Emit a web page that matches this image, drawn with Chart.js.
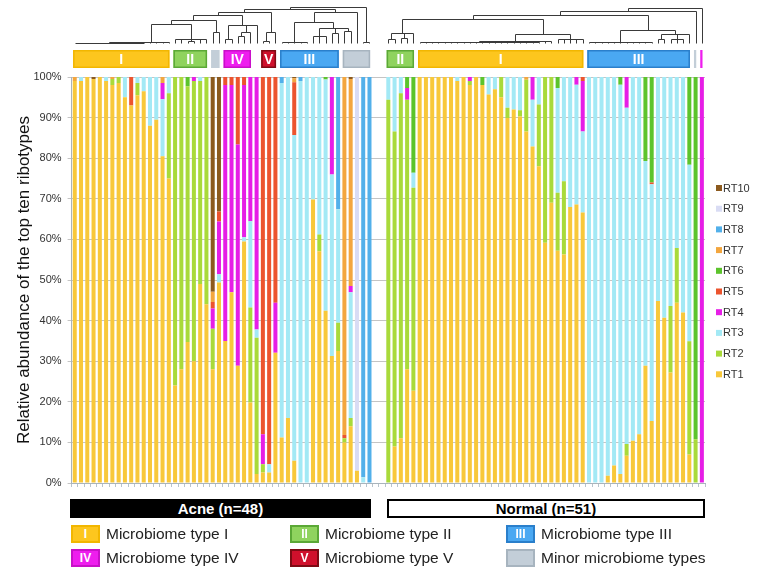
<!DOCTYPE html>
<html>
<head>
<meta charset="utf-8">
<script src="https://cdn.jsdelivr.net/npm/chart.js@4.4.1/dist/chart.umd.min.js"></script>
<style>
  body { margin: 0; background: #fff; font-family: "Liberation Sans", Arial, sans-serif; }
  #wrap { position: relative; width: 762px; height: 578px; }
  #chart { position: absolute; left: 0; top: 0; }
  .grp { position: absolute; top: 499px; height: 19px; line-height: 19px; text-align: center;
         font-weight: bold; font-size: 15px; box-sizing: border-box; }
  .tbox { position: absolute; width: 29px; height: 18px; box-sizing: border-box; border: 2px solid;
          color: #fff; font: bold 12px "Liberation Sans", Arial, sans-serif; text-align: center; line-height: 14px; }
  .tlab { position: absolute; font-size: 15.5px; color: #222; line-height: 18px; white-space: nowrap; }
</style>
</head>
<body>
<div id="wrap">
  <canvas id="chart" width="762" height="578"></canvas>
  <div class="grp" style="left:70px;width:301px;background:#000;color:#fff;">Acne (n=48)</div>
  <div class="grp" style="left:387px;width:318px;background:#fff;color:#000;border:2px solid #000;line-height:15px;">Normal (n=51)</div>
  <div id="typeLegend"></div>
</div>
<script>
// ribotype shares per sample: 48 acne samples, then 51 normal samples
var ribotypes = ["RT1", "RT2", "RT3", "RT4", "RT5", "RT6", "RT7", "RT8", "RT9", "RT10"];
var colors = ["#F8C83A", "#A9DA3A", "#A3E9F5", "#E61EE6", "#EC542E", "#5CC42C", "#F3A63E", "#52B0EA", "#D9DCF4", "#8C5A1E"];
var nAcne = 48, nNormal = 51;

var rt1 = [99,99,100,99.5,100,99,98,98.5,95,93,
  95.5,96.5,88,89.5,80.5,75,24,28,34.7,30,
  49,44,28,49.4,35,47,28.9,59.5,19.8,2.2,
  2.6,2.6,32.1,11.2,16,5.5,0,0,69.8,57.1,
  42.4,31.3,32.5,10,14,3,0,0,
  0,9,11,28,22.7,100,100,100,100,100,
  100,99,100,98,100,98,95.7,97,95,89.9,
  92,90.3,86.6,82.9,78,59.2,69,57.2,56.3,68,
  68.6,66.6,0,0,0,1.8,4.3,2.2,6.7,10.4,
  12,28.9,15.3,44.8,40.7,27.2,44.4,42,7,0,
  0];
var rt2 = [0,0,0,0,0,0,1.5,1.5,0,0,
  3,0,0,0,0,21,76,72,63,69,
  50,56,10,0,0,0,0,0,23.4,33.6,
  2,0,0,0,0,0,0,0,0,4.1,
  0,0,7,1,2,0,0,0,
  94.4,77.6,85,66.4,50,0,0,0,0,0,
  0,0,0,1,0,0,0,0,5,2.5,
  0,1.5,12.7,0,15.2,40.8,31,14.3,18,0,
  0,0,0,0,0,0,0,0,2.9,0,
  0,0,0,0,0,16.4,13.5,0,27.9,10.8,
  0];
var rt3 = [0,1,0,0,0,1,0,0,5,0,
  1.5,3.5,12,10.5,14,4,0,0,0,0,
  1,0,0,2,0,0,0,1,21.3,2,
  0,2,0,87.3,84,80.2,99,100,30.2,38.8,
  57,44.7,27.9,0,31,0,1.4,0,
  5.6,13.4,4,0,3.7,0,0,0,0,0,
  0,1,0,0,0,0,4.3,3,0,7.6,
  8,8.2,0,11.5,6.8,0,0,25.8,25.7,32,
  29.5,20,100,100,100,98.2,95.7,95.9,82.8,89.6,
  88,50.4,58.3,55.2,59.3,56.4,42.1,58,43.5,0,
  0];
var rt4 = [0,0,0,0,0,0,0,0,0,0,
  0,0,0,0,4,0,0,0,0,1,
  0,0,5,13,63,51,54.5,37.5,35.5,62.2,
  7.4,0,12.3,0,0,0,0,0,0,0,
  0,24,0,0,1.5,0,0,0,
  0,0,0,2.9,0,0,0,0,0,0,
  0,0,0,1,0,0,0,0,0,0,
  0,0,0,5.6,0,0,0,0,0,0,
  1.9,12.4,0,0,0,0,0,0,7.6,0,
  0,0,0,0,0,0,0,0,0,0,
  100];
var rt5 = [0,0,0,0,0,0,0,0,0,7,
  0,0,0,0,0,0,0,0,0,0,
  0,0,1.6,2.5,2,2,16.6,2,0,0,
  88,95.4,55.6,0,0,13,0,0,0,0,
  0,0,0,0.8,0,0,0,0,
  0,0,0,0,0,0,0,0,0,0,
  0,0,0,0,0,0,0,0,0,0,
  0,0,0,0,0,0,0,0,0,0,
  0,1,0,0,0,0,0,0,0,0,
  0,0,0.4,0,0,0,0,0,0,0,
  0];
var rt6 = [0,0,0,0,0,0,0,0,0,0,
  0,0,0,0,0,0,0,0,2.3,0,
  0,0,0,0,0,0,0,0,0,0,
  0,0,0,0,0,0,0,0,0,0,
  0.6,0,0,0,0,0,0,0,
  0,0,0,2.7,23.6,0,0,0,0,0,
  0,0,0,0,0,2,0,0,0,0,
  0,0,0,0,0,0,0,2.7,0,0,
  0,0,0,0,0,0,0,1.9,0,0,
  0,20.7,26,0,0,0,0,0,21.6,89.2,
  0];
var rt7 = [1,0,0,0,0,0,0.5,0,0,0,
  0,0,0,0,1.5,0,0,0,0,0,
  0,0,2.5,0,0,0,0,0,0,0,
  0,0,0,0,0,1,0,0,0,0,
  0,0,0,88.2,51,0,0,0,
  0,0,0,0,0,0,0,0,0,0,
  0,0,0,0,0,0,0,0,0,0,
  0,0,0.7,0,0,0,0,0,0,0,
  0,0,0,0,0,0,0,0,0,0,
  0,0,0,0,0,0,0,0,0,0,
  0];
var rt8 = [0,0,0,0,0,0,0,0,0,0,
  0,0,0,0,0,0,0,0,0,0,
  0,0,0,0,0,0,0,0,0,0,
  0,0,0,1.5,0,0,1,0,0,0,
  0,0,32.6,0,0,0,98.6,100,
  0,0,0,0,0,0,0,0,0,0,
  0,0,0,0,0,0,0,0,0,0,
  0,0,0,0,0,0,0,0,0,0,
  0,0,0,0,0,0,0,0,0,0,
  0,0,0,0,0,0,0,0,0,0,
  0];
var rt9 = [0,0,0,0,0,0,0,0,0,0,
  0,0,0,0,0,0,0,0,0,0,
  0,0,0,0,0,0,0,0,0,0,
  0,0,0,0,0,0,0,0,0,0,
  0,0,0,0,0,97,0,0,
  0,0,0,0,0,0,0,0,0,0,
  0,0,0,0,0,0,0,0,0,0,
  0,0,0,0,0,0,0,0,0,0,
  0,0,0,0,0,0,0,0,0,0,
  0,0,0,0,0,0,0,0,0,0,
  0];
var rt10 = [0,0,0,0.5,0,0,0,0,0,0,
  0,0,0,0,0,0,0,0,0,0,
  0,0,52.9,33.1,0,0,0,0,0,0,
  0,0,0,0,0,0.3,0,0,0,0,
  0,0,0,0,0.5,0,0,0,
  0,0,0,0,0,0,0,0,0,0,
  0,0,0,0,0,0,0,0,0,0,
  0,0,0,0,0,0,0,0,0,0,
  0,0,0,0,0,0,0,0,0,0,
  0,0,0,0,0,0,0,0,0,0,
  0];
var series = [rt1, rt2, rt3, rt4, rt5, rt6, rt7, rt8, rt9, rt10];

// microbiome type clusters: [type, first sample, last sample] within each group
var acneTypes = [["I", 0, 15], ["II", 16, 21], ["minor", 22, 23], ["IV", 24, 28], ["V", 30, 32], ["III", 33, 42], ["minor", 43, 47]];
var normalTypes = [["II", 0, 4], ["I", 5, 31], ["III", 32, 48], ["minor", 49, 49], ["IV", 50, 50]];
var typeNames = {I: "Microbiome type I", II: "Microbiome type II", III: "Microbiome type III",
  IV: "Microbiome type IV", V: "Microbiome type V", minor: "Minor microbiome types"};
var typeFill = {I: "#FDC61E", II: "#8FD35E", III: "#4AA8F2", IV: "#EE1EEE", V: "#D0102C", minor: "#C3CED8"};
var typeEdge = {I: "#F2B600", II: "#5BA836", III: "#2A7FCB", IV: "#C810C8", V: "#7E0A14", minor: "#A7B4BF"};

// dendrograms (h = merge height, 0..1; leaves = sample index)
var acneTree = {h: 0.99, c: [
  {h: 0.92, c: [
    {h: 0.84, c: [
      {h: 0.76, c: [
        {h: 0.64, c: [
          {h: 0.53, c: [
            {h: 0.04, c: [{h: 0.025, c: [{h: 0.01, c: [0,1,2,3,4,5,6,7,8,9,10,11]}, 12, 13]}, 14, 15]},
            {h: 0.1, c: [16, 17, {h: 0.05, c: [18, 19]}, 20, 21]}
          ]},
          {h: 0.29, c: [22, 23]}
        ]},
        {h: 0.48, c: [{h: 0.1, c: [24, 25]}, {h: 0.3, c: [{h: 0.18, c: [26, 27]}, 28]}, 29]}
      ]},
      {h: 0.3, c: [{h: 0.05, c: [30, 31]}, 32]}
    ]},
    {h: 0.85, c: [
      {h: 0.57, c: [
        {h: 0.03, c: [33, 34, 35, 36, 37]},
        {h: 0.42, c: [{h: 0.2, c: [38, 39, 40]}, {h: 0.28, c: [41, 42]}, {h: 0.32, c: [43, 44]}]}
      ]},
      45
    ]}
  ]},
  {h: 0.02, c: [46, 47]}
]};
var normalTree = {h: 0.96, c: [
  {h: 0.89, c: [
    {h: 0.78, c: [
      {h: 0.67, c: [
        {h: 0.28, c: [{h: 0.1, c: [0, 1]}, {h: 0.15, c: [2, 3]}, 4]},
        {h: 0.25, c: [
          {h: 0.05, c: [{h: 0.02, c: [5,6,7,8,9,10,11,12,13,14,15,16,17,18,19,20,21,22,23,24]}, 25, 26]},
          {h: 0.12, c: [27, 28, 29, 30, 31]}
        ]}
      ]},
      {h: 0.35, c: [
        {h: 0.02, c: [32,33,34,35,36,37,38,39,40,41,42]},
        {h: 0.25, c: [{h: 0.1, c: [43, 44]}, {h: 0.12, c: [45, 46, 47]}, 48]}
      ]}
    ]},
    49
  ]},
  50
]};

// build category slots: acne, two empty slots, normal
var gap = 2;
var labels = [];
for (var i = 0; i < nAcne; i++) labels.push("A" + (i + 1));
for (var g = 0; g < gap; g++) labels.push("");
for (var j = 0; j < nNormal; j++) labels.push("N" + (j + 1));
var normalOffset = nAcne + gap;

var datasets = series.map(function (arr, k) {
  var vals = arr.slice(0, nAcne);
  for (var g = 0; g < gap; g++) vals.push(null);
  vals = vals.concat(arr.slice(nAcne));
  return {
    label: ribotypes[k],
    data: vals,
    backgroundColor: colors[k],
    borderWidth: 0,
    barPercentage: 0.64,
    categoryPercentage: 1.0,
  };
});

function line(ctx, x1, y1, x2, y2) {
  ctx.beginPath();
  ctx.moveTo(Math.round(x1) + 0.5, Math.round(y1) + 0.5);
  ctx.lineTo(Math.round(x2) + 0.5, Math.round(y2) + 0.5);
  ctx.stroke();
}

var decor = {
  id: "decor",
  afterDraw: function (chart) {
    var ctx = chart.ctx;
    var xs = chart.scales.x;
    var area = chart.chartArea;
    var half = (xs.getPixelForValue(1) - xs.getPixelForValue(0)) / 2;
    ctx.save();

    // cluster boxes
    function boxes(list, off) {
      list.forEach(function (t) {
        var x1 = xs.getPixelForValue(t[1] + off) - half + 1.5;
        var x2 = xs.getPixelForValue(t[2] + off) + half - 2.5;
        var y1 = area.top - 27, h = 18;
        ctx.fillStyle = typeFill[t[0]];
        ctx.fillRect(x1, y1, x2 - x1, h);
        if (x2 - x1 > 12) {
          ctx.strokeStyle = typeEdge[t[0]];
          ctx.lineWidth = 1.5;
          ctx.strokeRect(x1 + 0.75, y1 + 0.75, x2 - x1 - 1.5, h - 1.5);
        }
        if (t[0] !== "minor" && x2 - x1 > 12) {
          ctx.fillStyle = "#fff";
          ctx.font = "bold 14px 'Liberation Sans', Arial, sans-serif";
          ctx.textAlign = "center";
          ctx.textBaseline = "middle";
          ctx.fillText(t[0], (x1 + x2) / 2, y1 + h / 2 + 1);
        }
      });
    }
    boxes(acneTypes, 0);
    boxes(normalTypes, normalOffset);

    // dendrograms
    var base = area.top - 34, span = 36.5;
    ctx.strokeStyle = "#3a3a3a";
    ctx.lineWidth = 1;
    function walk(n, off) {
      if (typeof n === "number") return {x: xs.getPixelForValue(n + off), y: base};
      var kids = n.c.map(function (k) { return walk(k, off); });
      var y = base - n.h * span;
      kids.forEach(function (k) { line(ctx, k.x, k.y, k.x, y); });
      line(ctx, kids[0].x, y, kids[kids.length - 1].x, y);
      return {x: (kids[0].x + kids[kids.length - 1].x) / 2, y: y};
    }
    walk(acneTree, 0);
    walk(normalTree, normalOffset);

    // ribotype legend
    ctx.font = "11px 'Liberation Sans', Arial, sans-serif";
    ctx.textAlign = "left";
    ctx.textBaseline = "middle";
    var lx = area.right + 11;
    for (var k = ribotypes.length - 1; k >= 0; k--) {
      var ly = area.top + 111 + (ribotypes.length - 1 - k) * 20.7;
      ctx.fillStyle = colors[k];
      ctx.fillRect(lx, ly - 3, 6, 6);
      ctx.fillStyle = "#333";
      ctx.fillText(ribotypes[k], lx + 7, ly + 0.5);
    }
    ctx.restore();
  }
};

Chart.defaults.font.family = "'Liberation Sans', Arial, sans-serif";
Chart.defaults.color = "#333";

new Chart(document.getElementById("chart").getContext("2d"), {
  type: "bar",
  data: { labels: labels, datasets: datasets },
  options: {
    responsive: false,
    animation: false,
    layout: { padding: { left: 0, right: 57, top: 77, bottom: 88 } },
    plugins: { legend: { display: false }, tooltip: { enabled: false } },
    scales: {
      x: {
        stacked: true,
        offset: true,
        ticks: { display: false },
        grid: { offset: true, drawOnChartArea: false, drawTicks: true, tickLength: 4, color: "#B8C4CC" },
        border: { color: "#A9B4BC" },
        afterFit: function (s) { s.height = 7; }
      },
      y: {
        stacked: true,
        min: 0,
        max: 100,
        ticks: { stepSize: 10, padding: 6, font: { size: 11 }, color: "#333",
                 callback: function (v) { return v + "%"; } },
        grid: { color: "#C4C4C4", tickLength: 4 },
        border: { color: "#A9B4BC" },
        title: { display: true, text: "Relative abundance of the top ten ribotypes",
                 font: { size: 17 }, color: "#111", padding: { top: 14, bottom: 0 } },
        afterFit: function (s) { s.width = 71.6; }
      }
    }
  },
  plugins: [decor]
});

// microbiome type legend below the chart
var legendOrder = ["I", "II", "III", "IV", "V", "minor"];
var legendCols = [71, 290, 506];
var legendRows = [525, 549];
var html = "";
legendOrder.forEach(function (t, n) {
  var x = legendCols[n % 3], y = legendRows[Math.floor(n / 3)];
  html += '<div class="tbox" style="left:' + x + 'px;top:' + y + 'px;background:' + typeFill[t] +
    ';border-color:' + typeEdge[t] + ';">' + (t === "minor" ? "" : t) + '</div>';
  html += '<div class="tlab" style="left:' + (x + 35) + 'px;top:' + y + 'px;">' + typeNames[t] + '</div>';
});
document.getElementById("typeLegend").innerHTML = html;
</script>
</body>
</html>
